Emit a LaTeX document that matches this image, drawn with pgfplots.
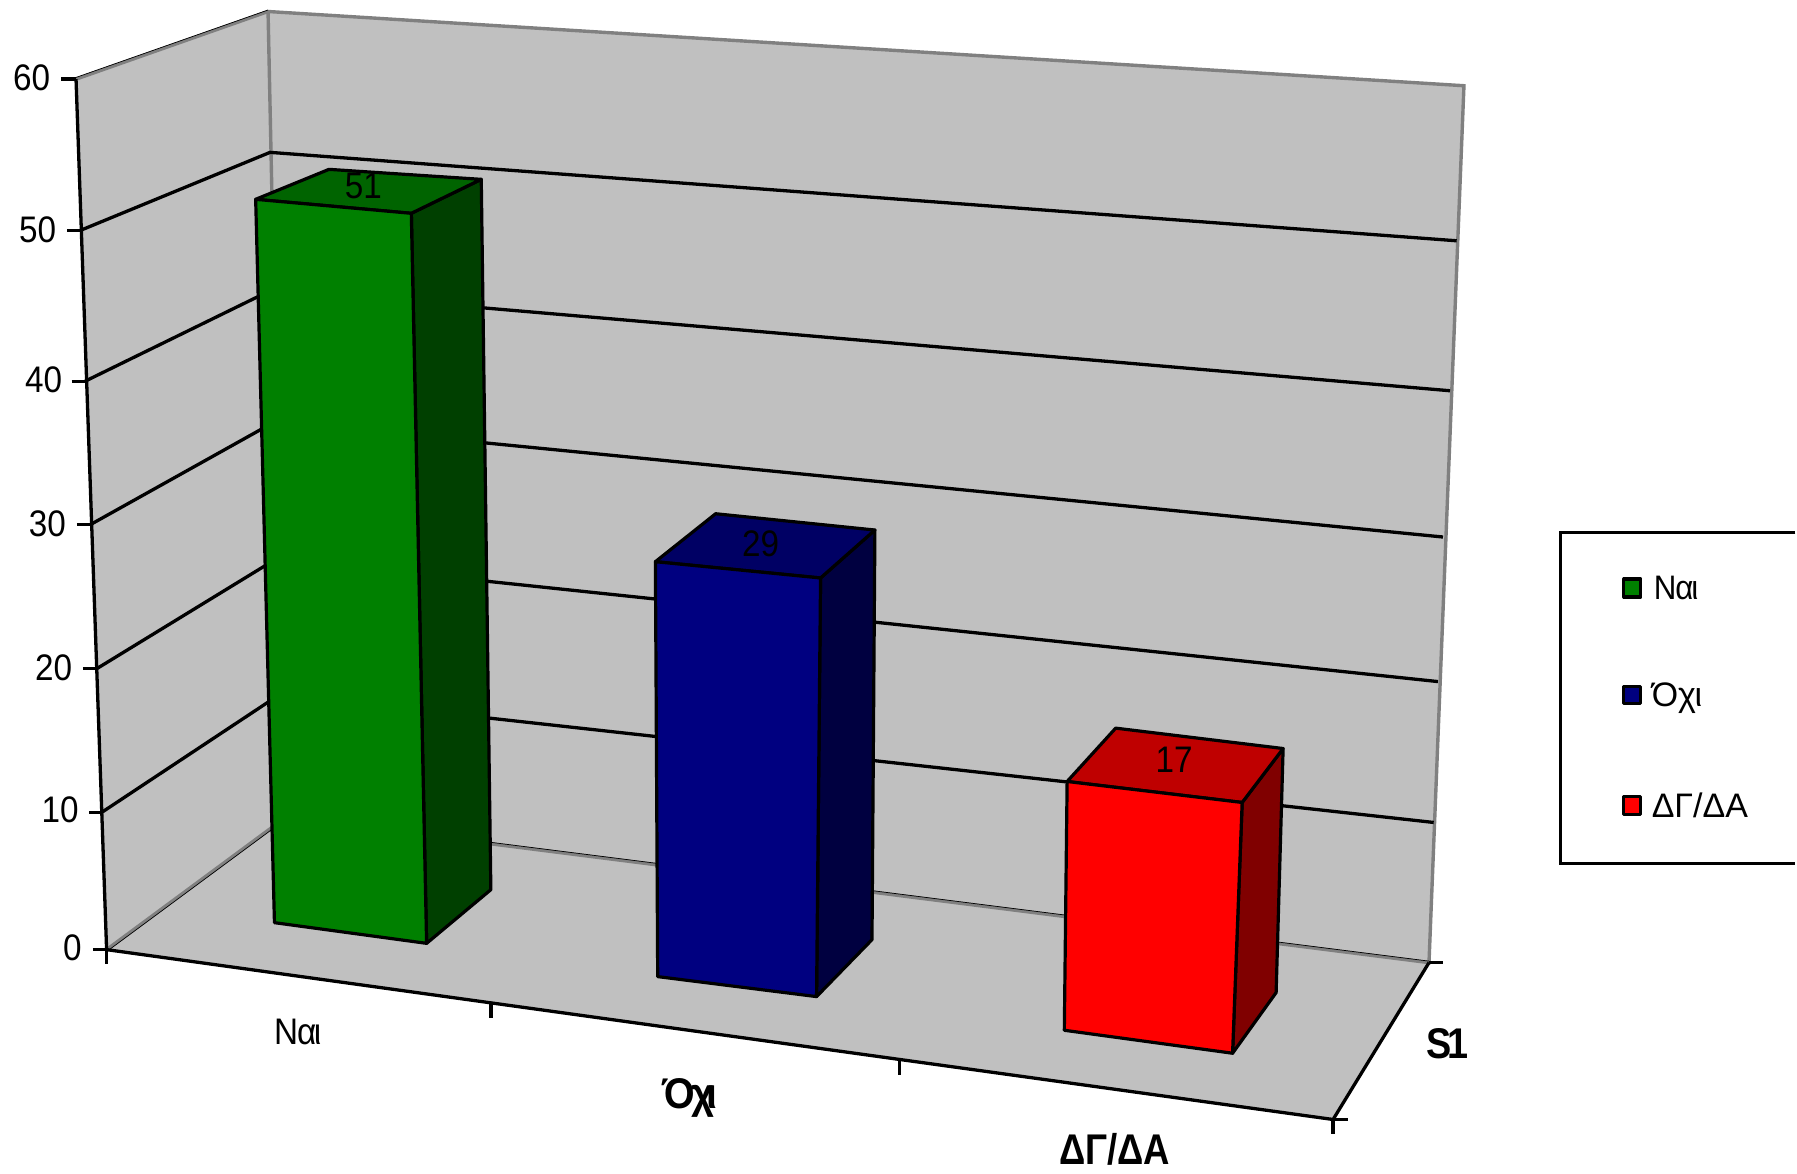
\documentclass[border=0pt]{standalone}
\usepackage{fontspec}
\setmainfont{Liberation Sans}
\usepackage{graphicx}
\usepackage{pgfplots}
\pgfplotsset{compat=1.18}
\definecolor{wall}{RGB}{192,192,192}
\definecolor{edge}{RGB}{128,128,128}
\definecolor{gF}{RGB}{0,128,0}\definecolor{gT}{RGB}{0,100,0}\definecolor{gS}{RGB}{0,64,0}
\definecolor{bF}{RGB}{0,0,128}\definecolor{bT}{RGB}{0,0,100}\definecolor{bS}{RGB}{0,0,64}
\definecolor{rF}{RGB}{255,0,0}\definecolor{rT}{RGB}{191,0,0}\definecolor{rS}{RGB}{128,0,0}
\newcommand\fa{\fontsize{18.5}{20}\selectfont}
\newcommand\fb{\fontsize{17}{20}\selectfont}
\newcommand\fc{\fontsize{21.5}{24}\selectfont\bfseries}
\tikzset{
  axln/.style={draw=black, line width=1.65pt, line cap=butt, line join=miter},
  barln/.style={draw=black, line width=1.6pt, line join=round},
  edgeln/.style={draw=edge, line width=1.7pt},
  thin/.style={draw=black, line width=0.35pt},
  lab/.style={inner sep=0pt, outer sep=0pt},
}
\begin{document}
\begin{tikzpicture}
\begin{axis}[
  hide axis, clip=false,
  x=0.5pt, y=0.5pt, y dir=reverse,
  xmin=0, xmax=1797, ymin=0, ymax=1174,
]
\path (axis cs:-0.3,-1.5) rectangle (axis cs:1796.7,1172.7);
% walls and floor
\addplot[fill=wall, draw=none] coordinates {(75.8,77.7)(268,10)(285,817)(106.4,949)} --cycle;
\addplot[fill=wall, draw=none] coordinates {(268,10)(1465,84.3)(1430,962)(285,817)} --cycle;
\addplot[fill=wall, draw=none] coordinates {(106.4,949)(285,817)(1430,962)(1334,1119)} --cycle;
\addplot[edgeln] coordinates {(75.8,77.7)(268,10)(1465,84.3)(1430,962)(285,817)(106.4,949)};
\addplot[edgeln] coordinates {(268,10)(285,817)};
\addplot[thin] coordinates {(75.8,76)(268,8.5)};
\addplot[thin] coordinates {(285,815.5)(1430,960.5)};
\addplot[thin] coordinates {(106.4,951)(285,819)};
% gridlines
\addplot[axln] coordinates {(80.4,229)(270,151)(1457.7,239.5)};
\addplot[axln] coordinates {(85,380)(272,288.5)(1451,389.6)};
\addplot[axln] coordinates {(90.7,523.3)(274,421)(1444,536)};
\addplot[axln] coordinates {(96.7,667.7)(276,558)(1439,680.7)};
\addplot[axln] coordinates {(101.4,811.7)(279,694)(1434.7,821.7)};
% axes and ticks
\addplot[axln] coordinates {(75.8,77.7)(106.4,949)};
\addplot[axln] coordinates {(106.4,949)(1334,1119)(1430,962)};
\addplot[axln] coordinates {(61,77.7)(75.8,77.7)};
\addplot[axln] coordinates {(67,229)(80.4,229)};
\addplot[axln] coordinates {(71.5,380)(85,380)};
\addplot[axln] coordinates {(76.7,523.3)(90.7,523.3)};
\addplot[axln] coordinates {(82.7,667.7)(96.7,667.7)};
\addplot[axln] coordinates {(89,811.7)(101.4,811.7)};
\addplot[axln] coordinates {(92.6,948.7)(106.4,948.7)};
\addplot[axln] coordinates {(106.4,949)(106.4,963)};
\addplot[axln] coordinates {(491,1003)(491,1017)};
\addplot[axln] coordinates {(899.7,1059.7)(899.7,1074)};
\addplot[axln] coordinates {(1334,1119)(1334,1134)};
\addplot[axln] coordinates {(1334,1119)(1349,1119)};
\addplot[axln] coordinates {(1430,962)(1444,962)};
% bars: side, top, front
\addplot[fill=gS, barln] coordinates {(411.4,212)(481.4,178)(491,889)(426.7,942.7)} --cycle;
\addplot[fill=gT, barln] coordinates {(255.6,198)(329,168)(481.4,178)(411.4,212)} --cycle;
\addplot[fill=gF, barln] coordinates {(255.6,198)(411.4,212)(426.7,942.7)(274.4,922)} --cycle;
\addplot[fill=bS, barln] coordinates {(821,577)(875.4,529)(872.5,939)(817,996)} --cycle;
\addplot[fill=bT, barln] coordinates {(655.7,560.7)(716,512.7)(875.4,529)(821,577)} --cycle;
\addplot[fill=bF, barln] coordinates {(655.7,560.7)(821,577)(817,996)(658,976)} --cycle;
\addplot[fill=rS, barln] coordinates {(1243,801.7)(1284,747.7)(1277,992)(1233.4,1052.7)} --cycle;
\addplot[fill=rT, barln] coordinates {(1067.8,780.7)(1116.4,727.3)(1284,747.7)(1243,801.7)} --cycle;
\addplot[fill=rF, barln] coordinates {(1067.8,780.7)(1243,801.7)(1233.4,1052.7)(1065,1029.7)} --cycle;
% data labels
\addplot[draw=none, mark=none, point meta=explicit symbolic, nodes near coords={\scalebox{.9}[1]{\fa\pgfplotspointmeta}},
  every node near coord/.style={anchor=center, inner sep=0pt, text=black}]
  coordinates {(363.5,185)[51] (761,543)[29] (1175,759)[17]};
% y tick labels
\node[lab,anchor=east] at (axis cs:50,76.7) {\scalebox{.9}[1]{\fa 60}};
\node[lab,anchor=east] at (axis cs:56,228) {\scalebox{.9}[1]{\fa 50}};
\node[lab,anchor=east] at (axis cs:62,379) {\scalebox{.9}[1]{\fa 40}};
\node[lab,anchor=east] at (axis cs:65.7,522.3) {\scalebox{.9}[1]{\fa 30}};
\node[lab,anchor=east] at (axis cs:72,666.7) {\scalebox{.9}[1]{\fa 20}};
\node[lab,anchor=east] at (axis cs:78.5,809) {\scalebox{.9}[1]{\fa 10}};
\node[lab,anchor=east] at (axis cs:81.5,947) {\scalebox{.9}[1]{\fa 0}};
% category labels
\node[lab,anchor=base west] at (axis cs:274,1044) {\fa\scalebox{.9}[1]{Ν\kern-.03emα\kern-.07emι}};
\node[lab,anchor=base west] at (axis cs:663,1108) {\fc\scalebox{.92}[1]{Ό\kern-.1emχ\kern-.2emι}};
\node[lab,anchor=base west] at (axis cs:1060,1164) {\fc\scalebox{.85}[1]{ΔΓ/ΔΑ}};
\node[lab,anchor=base west] at (axis cs:1427,1058) {\fc\scalebox{.88}[1]{S\kern-.1em 1}};
% legend
\addplot[axln] coordinates {(1796.7,531.7)(1561.7,531.7)(1561.7,863)(1796.7,863)};
\addplot[fill=gF, barln] coordinates {(1625,578)(1642,578)(1642,596)(1625,596)} --cycle;
\addplot[fill=bF, barln] coordinates {(1625,686)(1642,686)(1642,703)(1625,703)} --cycle;
\addplot[fill=rF, barln] coordinates {(1625,796)(1642,796)(1642,813.5)(1625,813.5)} --cycle;
\node[lab,anchor=base west] at (axis cs:1655,599) {\fb\scalebox{.92}[1]{Ν\kern-.03emα\kern-.07emι}};
\node[lab,anchor=base west] at (axis cs:1653,705.7) {\fb Όχ\kern-.04emι};
\node[lab,anchor=base west] at (axis cs:1653,816.7) {\fb ΔΓ/ΔΑ};
\end{axis}
\end{tikzpicture}
\end{document}
